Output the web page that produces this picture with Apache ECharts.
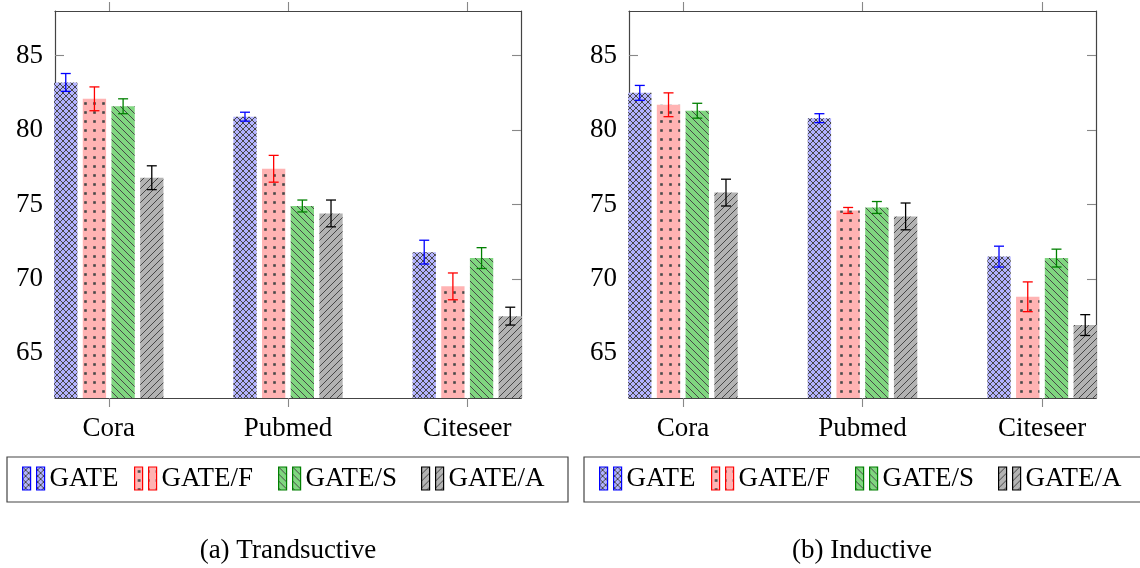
<!DOCTYPE html>
<html><head><meta charset="utf-8">
<script src="https://cdn.jsdelivr.net/npm/echarts@6/dist/echarts.min.js"></script>
<style>html,body{margin:0;padding:0;background:#fff}#c{width:1140px;height:568px}</style>
</head><body><div id="c"></div>
<script>
// ---- data ----
const categories = ['Cora', 'Pubmed', 'Citeseer'];
const methods = ['GATE', 'GATE/F', 'GATE/S', 'GATE/A'];
const yTicks = [65, 70, 75, 80, 85];
const captions = ['(a) Trandsuctive', '(b) Inductive'];

// Transductive
const transGATE = [83.2, 80.9, 71.8];
const transGATE_err = [0.6, 0.3, 0.8];
const transGATE_F = [82.1, 77.4, 69.5];
const transGATE_F_err = [0.8, 0.9, 0.9];
const transGATE_S = [81.6, 74.9, 71.4];
const transGATE_S_err = [0.5, 0.4, 0.7];
const transGATE_A = [76.8, 74.4, 67.5];
const transGATE_A_err = [0.8, 0.9, 0.6];

// Inductive
const inducGATE = [82.5, 80.8, 71.5];
const inducGATE_err = [0.5, 0.3, 0.7];
const inducGATE_F = [81.7, 74.6, 68.8];
const inducGATE_F_err = [0.8, 0.2, 1.0];
const inducGATE_S = [81.3, 74.8, 71.4];
const inducGATE_S_err = [0.5, 0.4, 0.6];
const inducGATE_A = [75.8, 74.2, 66.9];
const inducGATE_A_err = [0.9, 0.9, 0.7];

// ---- styling / layout ----
const FONT = 'Liberation Serif';
const FS = 27;
const yMin = 62, yMax = 88;
const xMin = -0.3, xMax = 2.3;
const fillColors = ['#b3b3ff', '#ffb3b3', '#80d680', '#b3b3b3'];
const errColors = ['#0000ff', '#ff0000', '#008000', '#000000'];
const patternKinds = ['cross', 'dots', 'nw', 'ne'];
const offsets = [-0.24, -0.08, 0.08, 0.24];
const barW = 0.13;
const legendItemX = [15, 127, 271, 414];   // item start within a legend box
const legendBoxX = [7, 584];
const legendBoxW = [561, 560];

function makePattern(kind, bg) {
  const s = kind === 'dots' ? 9 : (kind === 'cross' ? 6 : 7);
  const c = document.createElement('canvas');
  c.width = s; c.height = s;
  const g = c.getContext('2d');
  g.fillStyle = bg; g.fillRect(0, 0, s, s);
  g.strokeStyle = '#484848'; g.fillStyle = '#484848'; g.lineWidth = 1.0;
  if (kind === 'dots') {
    g.fillRect(s / 2 - 1.3, s / 2 - 1.3, 2.6, 2.6);
  } else {
    g.beginPath();
    for (let k = -1; k <= 1; k++) {
      if (kind === 'nw' || kind === 'cross') { g.moveTo(k * s, 0); g.lineTo(k * s + s, s); }
      if (kind === 'ne' || kind === 'cross') { g.moveTo(k * s, s); g.lineTo(k * s + s, 0); }
    }
    g.stroke();
  }
  return { image: c, repeat: 'repeat' };
}
const patterns = patternKinds.map((k, i) => makePattern(k, fillColors[i]));

const panels = [
  { vals: [transGATE, transGATE_F, transGATE_S, transGATE_A],
    errs: [transGATE_err, transGATE_F_err, transGATE_S_err, transGATE_A_err] },
  { vals: [inducGATE, inducGATE_F, inducGATE_S, inducGATE_A],
    errs: [inducGATE_err, inducGATE_F_err, inducGATE_S_err, inducGATE_A_err] }
];

const gridPos = [
  { left: 55, top: 11, width: 466, height: 387 },
  { left: 629, top: 11, width: 467, height: 387 }
];
const captionX = [288, 862];

const frame = { show: true, onZero: false, lineStyle: { color: '#444', width: 1.2 } };
const tickStyle = { color: '#888', width: 1.1 };
const catTicks = categories.map((c, i) => i);

const xAxis = [], yAxis = [], series = [], legend = [], graphic = [];
[0, 1].forEach(g => {
  ['bottom', 'top'].forEach(pos => {
    xAxis.push({
      type: 'value', gridIndex: g, position: pos, min: xMin, max: xMax,
      axisLine: frame,
      axisTick: { show: true, inside: false, length: 9, customValues: catTicks, lineStyle: tickStyle },
      axisLabel: pos === 'bottom' ? {
        customValues: catTicks, formatter: v => categories[Math.round(v)],
        fontFamily: FONT, fontSize: FS, color: '#000', margin: 17
      } : { show: false },
      splitLine: { show: false }
    });
  });
  ['left', 'right'].forEach(pos => {
    yAxis.push({
      type: 'value', gridIndex: g, position: pos, min: yMin, max: yMax,
      axisLine: frame,
      axisTick: { show: true, inside: true, length: 9, customValues: yTicks, lineStyle: tickStyle },
      axisLabel: pos === 'left' ? {
        customValues: yTicks, fontFamily: FONT, fontSize: FS, color: '#000', margin: 12
      } : { show: false },
      splitLine: { show: false }
    });
  });
  const P = panels[g];
  methods.forEach((name, m) => {
    series.push({
      type: 'custom', name: name,
      xAxisIndex: g * 2, yAxisIndex: g * 2,
      encode: { x: 0, y: 1 },
      data: categories.map((c, i) => [i, P.vals[m][i], P.errs[m][i]]),
      renderItem: (params, api) => {
        const x = api.value(0) + offsets[m];
        const v = api.value(1), e = api.value(2);
        const tl = api.coord([x - barW / 2, v]);
        const br = api.coord([x + barW / 2, yMin]);
        const cx = api.coord([x, v])[0];
        const t = api.coord([x, v + e])[1];
        const b = api.coord([x, v - e])[1];
        const es = { stroke: errColors[m], lineWidth: 1.3 };
        return { type: 'group', children: [
          { type: 'rect', shape: { x: tl[0], y: tl[1], width: br[0] - tl[0], height: br[1] - tl[1] },
            style: { fill: patterns[m] } },
          { type: 'line', shape: { x1: cx, y1: t, x2: cx, y2: b }, style: es },
          { type: 'line', shape: { x1: cx - 5, y1: t, x2: cx + 5, y2: t }, style: es },
          { type: 'line', shape: { x1: cx - 5, y1: b, x2: cx + 5, y2: b }, style: es }
        ] };
      }
    });
    legend.push({
      left: legendBoxX[g] + legendItemX[m], top: 465, orient: 'horizontal',
      itemWidth: 22, itemHeight: 23, padding: 0,
      icon: 'path://M0,0h8v23h-8zM14,0h8v23h-8z',
      selectedMode: false,
      data: [{
        name: name,
        itemStyle: { color: patterns[m], borderColor: errColors[m], borderWidth: 1.2 }
      }],
      textStyle: { fontFamily: FONT, fontSize: FS, color: '#000' }
    });
  });
  graphic.push({
    type: 'rect', shape: { x: legendBoxX[g], y: 457, width: legendBoxW[g], height: 45 },
    style: { fill: 'none', stroke: '#444', lineWidth: 1.2 }
  });
  graphic.push({
    type: 'text', x: captionX[g], y: 551,
    style: { text: captions[g], align: 'center', verticalAlign: 'middle',
      fontFamily: FONT, fontSize: FS, fill: '#000' }
  });
});

const chart = echarts.init(document.getElementById('c'));
chart.setOption({
  animation: false,
  backgroundColor: '#fff',
  grid: gridPos,
  xAxis, yAxis, series, legend, graphic
});
</script>
</body></html>
